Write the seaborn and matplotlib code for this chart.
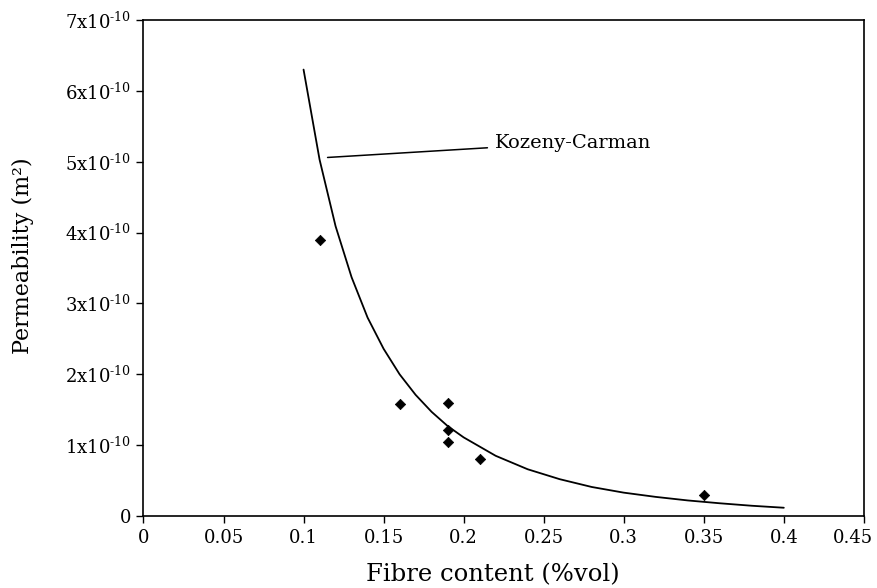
import matplotlib
matplotlib.use("Agg")
import matplotlib.pyplot as plt
import matplotlib.transforms as mtransforms
import seaborn as sns
import pandas as pd
from matplotlib.ticker import FixedLocator

# Kozeny-Carman curve
kc_x = [0.10, 0.11, 0.12, 0.13, 0.14, 0.15, 0.16, 0.17, 0.18, 0.19, 0.20,
        0.22, 0.24, 0.26, 0.28, 0.30, 0.32, 0.34, 0.36, 0.38, 0.40]
kc_y = [6.30e-10, 5.03e-10, 4.09e-10, 3.37e-10, 2.80e-10, 2.36e-10, 2.00e-10,
        1.71e-10, 1.47e-10, 1.27e-10, 1.11e-10, 0.85e-10, 0.66e-10, 0.52e-10,
        0.41e-10, 0.33e-10, 0.27e-10, 0.22e-10, 0.18e-10, 0.145e-10, 0.117e-10]

# Measured points
meas_x = [0.11, 0.16, 0.19, 0.19, 0.19, 0.21, 0.35]
meas_y = [3.90e-10, 1.58e-10, 1.59e-10, 1.21e-10, 1.04e-10, 0.81e-10, 0.30e-10]

x_ticks = [0, 0.05, 0.1, 0.15, 0.2, 0.25, 0.3, 0.35, 0.4, 0.45]
x_tick_labels = ["0", "0.05", "0.1", "0.15", "0.2", "0.25", "0.3", "0.35", "0.4", "0.45"]
y_ticks = [0, 1e-10, 2e-10, 3e-10, 4e-10, 5e-10, 6e-10, 7e-10]
y_tick_labels = ["0"] + [f"{i}x10$^{{\\text{{-10}}}}$" for i in range(1, 8)]

sns.set_theme(style="ticks")
plt.rcParams['font.family'] = ['DejaVu Serif']
plt.rcParams['mathtext.fontset'] = 'dejavuserif'

fig = plt.figure(figsize=(8.77, 5.88), dpi=100)
ax = fig.add_axes([0.1636, 0.1224, 0.985 - 0.1636, 0.966 - 0.1224])

kc = pd.DataFrame({"x": kc_x, "y": kc_y})
meas = pd.DataFrame({"x": meas_x, "y": meas_y})

sns.lineplot(data=kc, x="x", y="y", ax=ax, color="black", lw=1.3, sort=False)
sns.scatterplot(data=meas, x="x", y="y", ax=ax, color="black", marker="D",
                s=28, edgecolor="black", linewidth=0.5, zorder=3)

ax.set_xlim(0, 0.45)
ax.set_ylim(0, 7e-10)
ax.xaxis.set_major_locator(FixedLocator(x_ticks))
ax.set_xticklabels(x_tick_labels)
ax.yaxis.set_major_locator(FixedLocator(y_ticks))
ax.set_yticklabels(y_tick_labels)
ax.tick_params(axis="both", direction="out", length=5, width=1, colors="black",
               labelsize=13, pad=4)

# last x tick label shifted left to stay inside the figure, as in the reference
last = ax.get_xticklabels()[-1]
last.set_transform(last.get_transform() +
                   mtransforms.ScaledTranslation(-11 / 100, 0, fig.dpi_scale_trans))

for s in ax.spines.values():
    s.set_visible(True)
    s.set_color("black")
    s.set_linewidth(1.2)

ax.set_xlabel("Fibre content (%vol)", fontsize=17.5, color="black")
ax.set_ylabel("Permeability (m²)", fontsize=16, color="black")
ax.xaxis.set_label_coords(0.4844, -0.0948)
ax.yaxis.set_label_coords(-0.152, 0.525)

ax.annotate("Kozeny-Carman", xy=(0.115, 5.06e-10), xytext=(0.2195, 5.27e-10),
            fontsize=14, color="black", va="center", ha="left",
            arrowprops=dict(arrowstyle="-", color="black", lw=1.1,
                            shrinkA=3, shrinkB=0))

fig.savefig("out.png", dpi=100)
